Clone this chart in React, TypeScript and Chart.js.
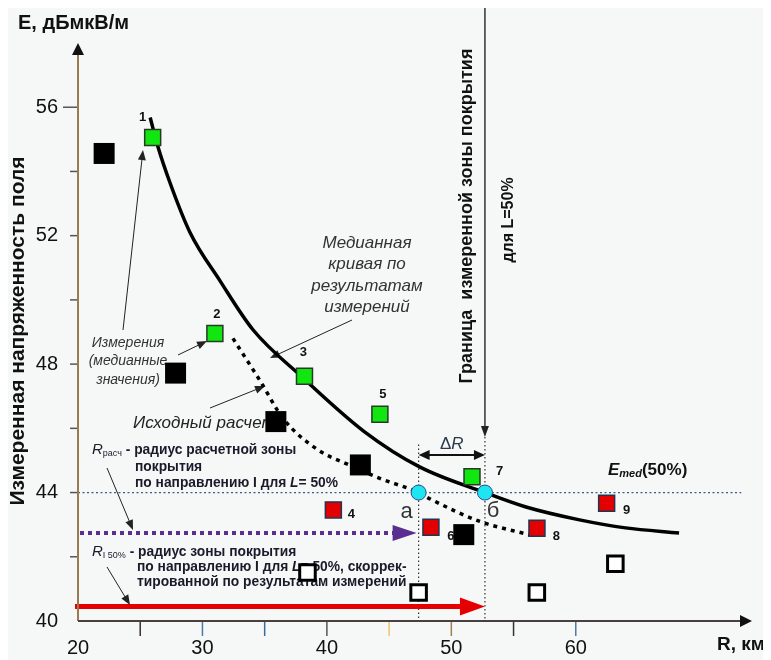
import React, { useEffect, useRef } from 'react';
import { Chart, registerables } from 'chart.js';

Chart.register(...registerables);

// ---------- data ----------
const X_TICK_LABELS = ['20', '30', '40', '50', '60'];
const Y_TICK_LABELS = ['40', '44', '48', '52', '56'];
const X_TICK_MARKS = [25, 30, 35, 40, 45, 50, 55, 60];
const Y_TICK_MARKS = [42, 44, 46, 48, 50, 52, 54, 56];

// median curve from measurements
const MEDIAN_R = [25.8, 26.4, 27.4, 29.0, 31.4, 34.06, 38.0, 43.0, 47.45, 52.7, 56.0, 60.3, 64.0, 68.3];
const MEDIAN_E = [55.68, 54.8, 53.64, 52.1, 50.6, 49.07, 47.6, 45.9, 44.8, 44.0, 43.55, 43.15, 42.9, 42.74];

// initial calculation (dashed)
const CALC_R = [32.45, 34.6, 36.5, 39.2, 41.85, 44.2, 47.37, 48.3, 52.3, 56.3];
const CALC_E = [48.8, 47.5, 46.3, 45.35, 44.85, 44.45, 44.0, 43.8, 43.1, 42.68];

// measurement points
const GREEN_R = [26.0, 31.0, 38.2, 44.26, 51.66];
const GREEN_E = [55.06, 48.95, 47.62, 46.44, 44.49];
const GREEN_LABELS = ['1', '2', '3', '5', '7'];

const RED_R = [40.52, 48.36, 56.88, 62.48];
const RED_E = [43.46, 42.92, 42.89, 43.67];
const RED_LABELS = ['4', '6', '8', '9'];

const BLACK_R = [22.1, 27.84, 35.9, 42.69, 51.0];
const BLACK_E = [54.56, 47.72, 46.21, 44.86, 42.69];

const HOLLOW_R = [38.44, 47.37, 56.87, 63.18];
const HOLLOW_E = [41.51, 40.89, 40.89, 41.78];

const E_MED = 44;
const R_A = 47.37; // radius by calculation
const R_B = 52.7; // radius by measurement
const CROSS_R = [R_A, R_B];
const CROSS_E = [E_MED, E_MED];

const E_PURPLE = 42.74;
const E_RED = 40.45;
const E_DELTA = 45.17;
const E_A_TOP = 45.5;
const E_B_ARROW = 45.73;

// ---------- styles ----------
const FONT = '"Liberation Sans", Arial, sans-serif';
const X_TICK_COLORS = ['#3a2f2a', '#4a78a8', '#3d6b98', '#555555', '#f0c070', '#a08050', '#333333', '#4a7aa8'];
const GREEN_OFFSETS = [[-10, -19.5], [2, -19], [-1, -24], [3, -20], [27.5, -5]];
const RED_OFFSETS = [[18, 5], [20, 9], [19.5, 8], [20, 7]];

const pts = (xs: number[], ys: number[]) => xs.map((x, i) => ({ x, y: ys[i] }));

function arrowHead(ctx: CanvasRenderingContext2D, x: number, y: number, ang: number, len: number, half: number, color: string) {
  ctx.save();
  ctx.translate(x, y);
  ctx.rotate(ang);
  ctx.beginPath();
  ctx.moveTo(0, 0);
  ctx.lineTo(-len, -half);
  ctx.lineTo(-len, half);
  ctx.closePath();
  ctx.fillStyle = color;
  ctx.fill();
  ctx.restore();
}

function leader(ctx: CanvasRenderingContext2D, x1: number, y1: number, x2: number, y2: number) {
  const ang = Math.atan2(y2 - y1, x2 - x1);
  ctx.save();
  ctx.strokeStyle = '#222';
  ctx.lineWidth = 1;
  ctx.setLineDash([]);
  ctx.beginPath();
  ctx.moveTo(x1, y1);
  ctx.lineTo(x2 - 8 * Math.cos(ang), y2 - 8 * Math.sin(ang));
  ctx.stroke();
  arrowHead(ctx, x2, y2, ang, 10, 4, '#222');
  ctx.restore();
}

type Seg = { t: string; f: string; dy?: number };
function segs(ctx: CanvasRenderingContext2D, list: Seg[], x: number, y: number, color: string) {
  ctx.save();
  ctx.fillStyle = color;
  ctx.textAlign = 'left';
  ctx.textBaseline = 'middle';
  let cx = x;
  for (const s of list) {
    ctx.font = s.f;
    ctx.fillText(s.t, cx, y + (s.dy || 0));
    cx += ctx.measureText(s.t).width;
  }
  ctx.restore();
}

function text(ctx: CanvasRenderingContext2D, t: string, x: number, y: number, f: string, color: string, align: CanvasTextAlign = 'left', rot = 0) {
  ctx.save();
  ctx.translate(x, y);
  if (rot) ctx.rotate(rot);
  ctx.font = f;
  ctx.fillStyle = color;
  ctx.textAlign = align;
  ctx.textBaseline = 'middle';
  ctx.fillText(t, 0, 0);
  ctx.restore();
}

const annotPlugin = {
  id: 'annot',
  beforeDraw(chart: any) {
    const { ctx, width, height } = chart;
    ctx.save();
    ctx.fillStyle = '#f6f8f8';
    ctx.fillRect(0, 0, width, height);
    ctx.restore();
  },
  beforeDatasetsDraw(chart: any) {
    const { ctx, chartArea: ca, scales } = chart;
    const px = (v: number) => scales.x.getPixelForValue(v);
    const py = (v: number) => scales.y.getPixelForValue(v);
    const x0 = ca.left;
    const y0 = ca.bottom;

    // tick marks
    ctx.save();
    ctx.lineWidth = 1.5;
    X_TICK_MARKS.forEach((v, i) => {
      ctx.strokeStyle = X_TICK_COLORS[i];
      ctx.beginPath();
      ctx.moveTo(px(v), y0);
      ctx.lineTo(px(v), y0 + 15);
      ctx.stroke();
    });
    ctx.strokeStyle = '#555';
    Y_TICK_MARKS.forEach((v) => {
      const len = v === 56 ? 15 : 8;
      ctx.beginPath();
      ctx.moveTo(x0 - len, py(v));
      ctx.lineTo(x0, py(v));
      ctx.stroke();
    });
    ctx.restore();

    // horizontal dotted Emed line
    ctx.save();
    ctx.strokeStyle = '#3a5a80';
    ctx.lineWidth = 1.3;
    ctx.setLineDash([2, 2.5]);
    ctx.beginPath();
    ctx.moveTo(x0, py(E_MED));
    ctx.lineTo(px(73.3), py(E_MED));
    ctx.stroke();
    // vertical dotted lines
    ctx.strokeStyle = '#3a3030';
    ctx.lineWidth = 1.2;
    ctx.setLineDash([1.5, 2.5]);
    ctx.beginPath();
    ctx.moveTo(px(R_A), py(E_A_TOP));
    ctx.lineTo(px(R_A), y0);
    ctx.moveTo(px(R_B), py(E_B_ARROW));
    ctx.lineTo(px(R_B), y0);
    ctx.stroke();
    ctx.restore();

    // boundary solid line with arrow
    ctx.save();
    ctx.strokeStyle = '#333';
    ctx.lineWidth = 1.5;
    ctx.beginPath();
    ctx.moveTo(px(R_B), 0);
    ctx.lineTo(px(R_B), py(E_B_ARROW) - 8);
    ctx.stroke();
    arrowHead(ctx, px(R_B), py(E_B_ARROW), Math.PI / 2, 11, 4, '#222');
    ctx.restore();

    // delta R double arrow
    ctx.save();
    ctx.strokeStyle = '#111';
    ctx.lineWidth = 2;
    ctx.beginPath();
    ctx.moveTo(px(R_A) + 6, py(E_DELTA));
    ctx.lineTo(px(R_B) - 6, py(E_DELTA));
    ctx.stroke();
    arrowHead(ctx, px(R_A), py(E_DELTA), Math.PI, 11, 5, '#111');
    arrowHead(ctx, px(R_B), py(E_DELTA), 0, 11, 5, '#111');
    ctx.restore();
    segs(ctx, [{ t: 'Δ', f: `17px ${FONT}` }, { t: 'R', f: `italic 17px ${FONT}` }], 432, 436, '#2a3a4a');

    // purple dotted arrow
    ctx.save();
    ctx.strokeStyle = '#5c2d91';
    ctx.lineWidth = 4;
    ctx.setLineDash([4, 4]);
    ctx.beginPath();
    ctx.moveTo(x0 + 2, py(E_PURPLE));
    ctx.lineTo(px(R_A) - 24, py(E_PURPLE));
    ctx.stroke();
    ctx.restore();
    arrowHead(ctx, px(R_A) - 2, py(E_PURPLE), 0, 24, 8, '#5c2d91');

    // red arrow
    ctx.save();
    ctx.strokeStyle = '#e40000';
    ctx.lineWidth = 5;
    ctx.beginPath();
    ctx.moveTo(x0 - 3, py(E_RED));
    ctx.lineTo(px(R_B) - 22, py(E_RED));
    ctx.stroke();
    ctx.restore();
    arrowHead(ctx, px(R_B), py(E_RED), 0, 25, 9, '#e40000');

    // axes
    ctx.save();
    ctx.lineWidth = 2;
    ctx.strokeStyle = '#9a7a50';
    ctx.beginPath();
    ctx.moveTo(x0, y0);
    ctx.lineTo(x0, ca.top + 10);
    ctx.stroke();
    arrowHead(ctx, x0, ca.top, -Math.PI / 2, 12, 6, '#111');
    ctx.strokeStyle = '#4a4040';
    ctx.beginPath();
    ctx.moveTo(x0, y0);
    ctx.lineTo(ca.right - 8, y0);
    ctx.stroke();
    arrowHead(ctx, ca.right + 2, y0, 0, 12, 6, '#111');
    ctx.restore();

    // axis titles
    text(ctx, 'E, дБмкВ/м', 10, 15, `bold 20px ${FONT}`, '#111');
    text(ctx, 'Измеренная напряженность поля', 10, 323, `bold 21px ${FONT}`, '#111', 'center', -Math.PI / 2);
    text(ctx, 'R, км', 709, 637, `bold 19px ${FONT}`, '#111');

    // rotated boundary texts
    text(ctx, 'Граница  измеренной зоны покрытия', 459, 208, `bold 18px ${FONT}`, '#111', 'center', -Math.PI / 2);
    text(ctx, 'для L=50%', 501, 212, `bold 16px ${FONT}`, '#111', 'center', -Math.PI / 2);

    // italic annotations
    const med = ['Медианная', 'кривая по', 'результатам', 'измерений'];
    med.forEach((l, i) => text(ctx, l, 359, 235 + i * 21.5, `italic 17px ${FONT}`, '#333', 'center'));
    const meas = ['Измерения', '(медианные', 'значения)'];
    meas.forEach((l, i) => text(ctx, l, 120, 335 + i * 18.5, `italic 14px ${FONT}`, '#333', 'center'));
    text(ctx, 'Исходный расчет', 125, 415, `italic 17px ${FONT}`, '#222');

    // leaders
    leader(ctx, 115, 322, 135, 142);
    leader(ctx, 170, 347, 199, 333);
    leader(ctx, 344, 312, 262, 350);
    leader(ctx, 202, 400, 257, 378);
    leader(ctx, 99, 460, 125, 522);
    leader(ctx, 99, 559, 122, 597);

    // radius texts
    const B13 = `bold 13.8px ${FONT}`;
    const TC = '#1a1a2a';
    segs(ctx, [
      { t: 'R', f: `italic 15px ${FONT}` },
      { t: 'расч', f: `9px ${FONT}`, dy: 4 },
      { t: ' - радиус расчетной зоны', f: B13 },
    ], 84, 442, TC);
    segs(ctx, [{ t: 'покрытия', f: B13 }], 127, 459, TC);
    segs(ctx, [
      { t: 'по направлению I для ', f: B13 },
      { t: 'L', f: `bold italic 13.8px ${FONT}` },
      { t: '= 50%', f: B13 },
    ], 127, 475, TC);

    segs(ctx, [
      { t: 'R', f: `italic 15px ${FONT}` },
      { t: 'I 50%', f: `9px ${FONT}`, dy: 4 },
      { t: ' - радиус зоны покрытия', f: B13 },
    ], 84, 544, TC);
    segs(ctx, [
      { t: 'по направлению I для ', f: B13 },
      { t: 'L', f: `bold italic 13.8px ${FONT}` },
      { t: '= 50%, скоррек-', f: B13 },
    ], 129, 559, TC);
    segs(ctx, [{ t: 'тированной по результатам измерений', f: B13 }], 129, 574, TC);

    // Emed label
    segs(ctx, [
      { t: 'E', f: `bold italic 17px ${FONT}` },
      { t: 'med', f: `bold italic 11px ${FONT}`, dy: 4 },
      { t: '(50%)', f: `bold 17px ${FONT}` },
    ], 600, 462, '#111');

    // a / б
    text(ctx, 'а', px(R_A) - 12, py(E_MED) + 19, `22px ${FONT}`, '#333', 'center');
    text(ctx, 'б', px(R_B) + 8, py(E_MED) + 18, `22px ${FONT}`, '#333', 'center');
  },
  afterDatasetsDraw(chart: any) {
    const { ctx } = chart;
    const gm = chart.getDatasetMeta(2);
    gm.data.forEach((el: any, i: number) => {
      text(ctx, GREEN_LABELS[i], el.x + GREEN_OFFSETS[i][0], el.y + GREEN_OFFSETS[i][1], `bold 13px ${FONT}`, '#111', 'center');
    });
    const rm = chart.getDatasetMeta(3);
    rm.data.forEach((el: any, i: number) => {
      text(ctx, RED_LABELS[i], el.x + RED_OFFSETS[i][0], el.y + RED_OFFSETS[i][1], `bold 13px ${FONT}`, '#111', 'center');
    });
  },
};

export default function App() {
  const ref = useRef<HTMLCanvasElement | null>(null);
  useEffect(() => {
    if (!ref.current) return;
    const chart = new Chart(ref.current, {
      type: 'scatter',
      data: {
        datasets: [
          {
            data: pts(MEDIAN_R, MEDIAN_E),
            showLine: true,
            borderColor: '#000',
            borderWidth: 3.5,
            pointRadius: 0,
            cubicInterpolationMode: 'monotone',
            order: 10,
          },
          {
            data: pts(CALC_R, CALC_E),
            showLine: true,
            borderColor: '#000',
            borderWidth: 3.5,
            borderDash: [4, 5],
            pointRadius: 0,
            cubicInterpolationMode: 'monotone',
            order: 9,
          },
          {
            data: pts(GREEN_R, GREEN_E),
            pointStyle: 'rect',
            pointRadius: 11.3,
            backgroundColor: '#11e611',
            borderColor: '#263a26',
            borderWidth: 1.5,
            order: 3,
          },
          {
            data: pts(RED_R, RED_E),
            pointStyle: 'rect',
            pointRadius: 11.3,
            backgroundColor: '#e20000',
            borderColor: '#23344f',
            borderWidth: 1.5,
            order: 3,
          },
          {
            data: pts(BLACK_R, BLACK_E),
            pointStyle: 'rect',
            pointRadius: 14.85,
            backgroundColor: '#000',
            borderColor: '#000',
            borderWidth: 0,
            order: 2,
          },
          {
            data: pts(HOLLOW_R, HOLLOW_E),
            pointStyle: 'rect',
            pointRadius: 11,
            backgroundColor: '#fff',
            borderColor: '#000',
            borderWidth: 3,
            order: 2,
          },
          {
            data: pts(CROSS_R, CROSS_E),
            pointStyle: 'circle',
            pointRadius: 7.5,
            backgroundColor: '#1ee6f0',
            borderColor: '#2a4a8a',
            borderWidth: 1,
            order: 0,
          },
        ],
      },
      options: {
        animation: false,
        responsive: false,
        events: [],
        layout: { padding: { left: 0, top: 35, right: 21, bottom: 0 } },
        plugins: { legend: { display: false }, tooltip: { enabled: false } },
        scales: {
          x: {
            type: 'linear',
            min: 20,
            max: 74,
            afterFit: (s: any) => { s.height = 39; },
            border: { display: false },
            grid: { display: false, drawTicks: false },
            ticks: {
              stepSize: 5,
              autoSkip: false,
              maxRotation: 0,
              padding: 15,
              color: '#111',
              font: { size: 20, family: FONT },
              callback: (v: any) => (X_TICK_LABELS.includes(String(v)) ? String(v) : ''),
            },
          },
          y: {
            type: 'linear',
            min: 40,
            max: 58,
            afterFit: (s: any) => { s.width = 70; },
            border: { display: false },
            grid: { display: false, drawTicks: false },
            ticks: {
              stepSize: 2,
              autoSkip: false,
              padding: 20,
              color: '#111',
              font: { size: 20, family: FONT },
              callback: (v: any) => (Y_TICK_LABELS.includes(String(v)) ? String(v) : ''),
            },
          },
        },
      } as any,
      plugins: [annotPlugin],
    });
    return () => chart.destroy();
  }, []);
  return (
    <div style={{ width: 763, height: 652 }}>
      <canvas ref={ref} width={763} height={652} style={{ display: 'block', width: 763, height: 652 }} />
    </div>
  );
}
